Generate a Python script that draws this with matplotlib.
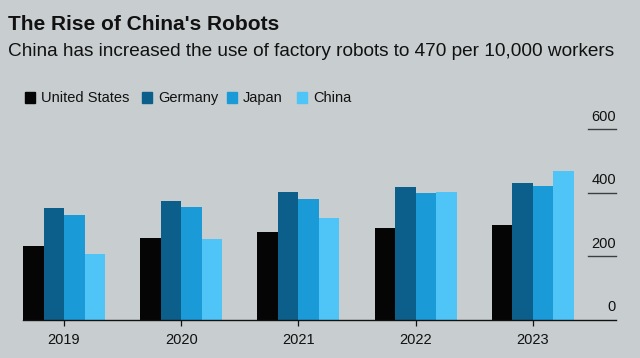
import numpy as np
import matplotlib as mpl
import matplotlib.pyplot as plt
from matplotlib.patches import Rectangle

mpl.rc('font', family=['Liberation Sans', 'DejaVu Sans'])

#%% data (robots per 10,000 workers)
years = ['2019', '2020', '2021', '2022', '2023']
countries = ['United States', 'Germany', 'Japan', 'China']
us = [233, 257, 277, 289, 298]
germany = [352, 375, 402, 420, 432]
japan = [331, 356, 380, 401, 422]
china = [208, 254, 322, 404, 470]
yticks = [0, 200, 400, 600]

cols = ['#050505', '#0b5f8a', '#1a9ad6', '#4fc4f7']
bg = '#c8cdcf'

#%% figure
fig = plt.figure(figsize=(6.4, 3.58), dpi=100, facecolor=bg)
W, H = 640, 358
ax = fig.add_axes([23 / W, 38 / H, (616 - 23) / W, (320 - 129.3) / H])
ax.set_facecolor(bg)

x = np.arange(len(years))
bw = 0.175
for k, vals in enumerate([us, germany, japan, china]):
    ax.bar(x + (k - 1.5) * bw, vals, width=bw, color=cols[k], zorder=2)

ax.set_xlim(-0.35, 4.71)
ax.set_ylim(0, 600)
for s in ['top', 'right', 'left']:
    ax.spines[s].set_visible(False)
ax.spines['bottom'].set_color('#111111')
ax.spines['bottom'].set_linewidth(1.0)
ax.set_yticks([])
ax.set_xticks(x)
ax.set_xticklabels(years, fontsize=10.5, color='#111111')
ax.tick_params(axis='x', length=4, width=0.9, color='#111111', pad=5)

# right-hand value scale: short rules with labels above them
for t in yticks:
    if t > 0:
        ax.plot([4.47, 4.71], [t, t], color='#3a3f42', lw=1.0, clip_on=False)
    ax.annotate(str(t), (4.71, t), xytext=(0, 4), textcoords='offset points',
                ha='right', va='bottom', fontsize=10.5, color='#111111',
                annotation_clip=False)

#%% titles
fig.text(8 / W, 1 - 30 / H, "The Rise of China's Robots", fontsize=15,
         fontweight='bold', color='#111111', va='baseline')
fig.text(8 / W, 1 - 56 / H,
         'China has increased the use of factory robots to 470 per 10,000 workers',
         fontsize=13.7, color='#111111', va='baseline')

#%% legend
sq_x = [25, 142, 227, 297]
for k, name in enumerate(countries):
    fig.patches.append(Rectangle((sq_x[k] / W, 1 - 102.5 / H), 10 / W, 10 / H,
                                 transform=fig.transFigure, color=cols[k]))
    fig.text((sq_x[k] + 16) / W, 1 - 102 / H, name, fontsize=10.5,
             color='#111111', va='baseline')

fig.savefig('out.png', dpi=100, facecolor=bg)
